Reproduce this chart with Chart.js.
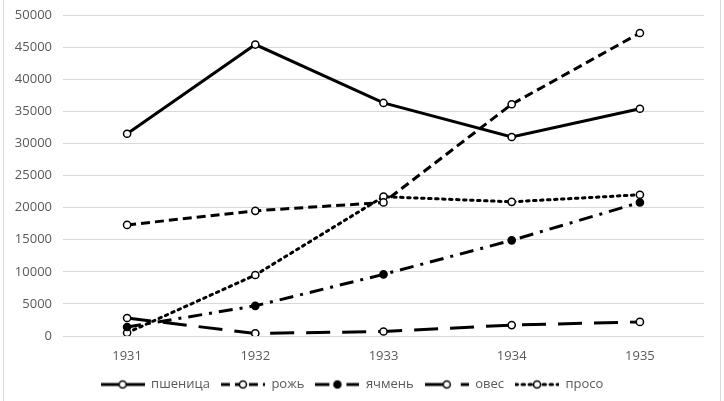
<!DOCTYPE html>
<html>
<head>
<meta charset="utf-8">
<script src="https://cdn.jsdelivr.net/npm/chart.js@4/dist/chart.umd.min.js"></script>
<style>
  html, body { margin: 0; padding: 0; background: #fff; }
  #wrap { position: relative; width: 724px; height: 401px; }
  #wrap::before { content: ""; position: absolute; left: 3px; top: 0; width: 716px; height: 401px;
    border-left: 1px solid #d9d9d9; border-right: 1px solid #d9d9d9; pointer-events: none; }
  canvas { display: block; }
</style>
</head>
<body>
<div id="wrap"><canvas id="c" width="724" height="401"></canvas></div>
<script>
const years = ['1931', '1932', '1933', '1934', '1935'];
const wheat  = [31500, 45400, 36300, 31000, 35400];
const rye    = [17300, 19500, 20800, 36100, 47200];
const barley = [1400, 4700, 9600, 14900, 20800];
const oats   = [2800, 400, 700, 1700, 2200];
const millet = [500, 9500, 21700, 20900, 22000];
const seriesNames = ['пшеница', 'рожь', 'ячмень', 'овес', 'просо'];

const FONT = "'Open Sans', 'Noto Sans', sans-serif";
const GRAY = '#595959';

const styles = [
  { data: wheat,  dash: [],            fill: '#fff', cap: 'butt' },
  { data: rye,    dash: [9, 5],        fill: '#fff', cap: 'butt' },
  { data: barley, dash: [14, 7, 3, 7], fill: '#000', cap: 'butt' },
  { data: oats,   dash: [24, 12],      fill: '#fff', cap: 'butt' },
  { data: millet, dash: [2.5, 4.5],    fill: '#fff', cap: 'round' }
];

function legendIcon(s) {
  const c = document.createElement('canvas');
  c.width = 44; c.height = 14;
  const g = c.getContext('2d');
  g.strokeStyle = '#000';
  g.lineWidth = 3;
  g.lineCap = s.cap;
  g.setLineDash(s.dash);
  g.beginPath(); g.moveTo(0, 7); g.lineTo(44, 7); g.stroke();
  g.setLineDash([]);
  g.beginPath(); g.arc(22, 7, 3.5, 0, Math.PI * 2);
  g.fillStyle = s.fill; g.fill();
  g.lineWidth = 1.5; g.stroke();
  return c;
}
const icons = styles.map(legendIcon);

const datasets = styles.map((s, i) => ({
  label: seriesNames[i],
  data: s.data,
  borderColor: '#000',
  backgroundColor: '#000',
  borderWidth: 3,
  borderDash: s.dash,
  borderCapStyle: s.cap,
  tension: 0,
  pointRadius: 3.6,
  pointHoverRadius: 3.6,
  pointBorderWidth: 1.5,
  pointBorderColor: '#000',
  pointBackgroundColor: s.fill
}));

new Chart(document.getElementById('c'), {
  type: 'line',
  data: { labels: years, datasets },
  options: {
    responsive: false,
    animation: false,
    events: [],
    layout: { padding: { left: 0, right: 20, top: 15, bottom: 0 } },
    plugins: {
      tooltip: { enabled: false },
      legend: {
        position: 'bottom',
        labels: {
          usePointStyle: true,
          pointStyleWidth: 44,
          padding: 11,
          color: GRAY,
          font: { family: FONT, size: 13 },
          generateLabels: (chart) => chart.data.datasets.map((d, i) => ({
            text: d.label,
            pointStyle: icons[i],
            fontColor: GRAY,
            strokeStyle: '#000',
            fillStyle: '#fff',
            lineWidth: 0,
            hidden: false,
            datasetIndex: i
          }))
        }
      }
    },
    scales: {
      x: {
        offset: true,
        grid: { display: false, drawTicks: false },
        border: { display: false },
        ticks: { color: GRAY, font: { family: FONT, size: 13 }, padding: 12 },
        afterFit: (s) => { s.height = 31; }
      },
      y: {
        min: 0, max: 50000,
        grid: { color: '#d9d9d9', lineWidth: 1, drawTicks: false },
        border: { display: false },
        ticks: { stepSize: 5000, color: GRAY, font: { family: FONT, size: 13 }, padding: 11,
                 callback: (v) => String(v) },
        afterFit: (s) => { s.width = 63; s.paddingTop = 0; s.paddingBottom = 0; }
      }
    }
  }
});
</script>
</body>
</html>
